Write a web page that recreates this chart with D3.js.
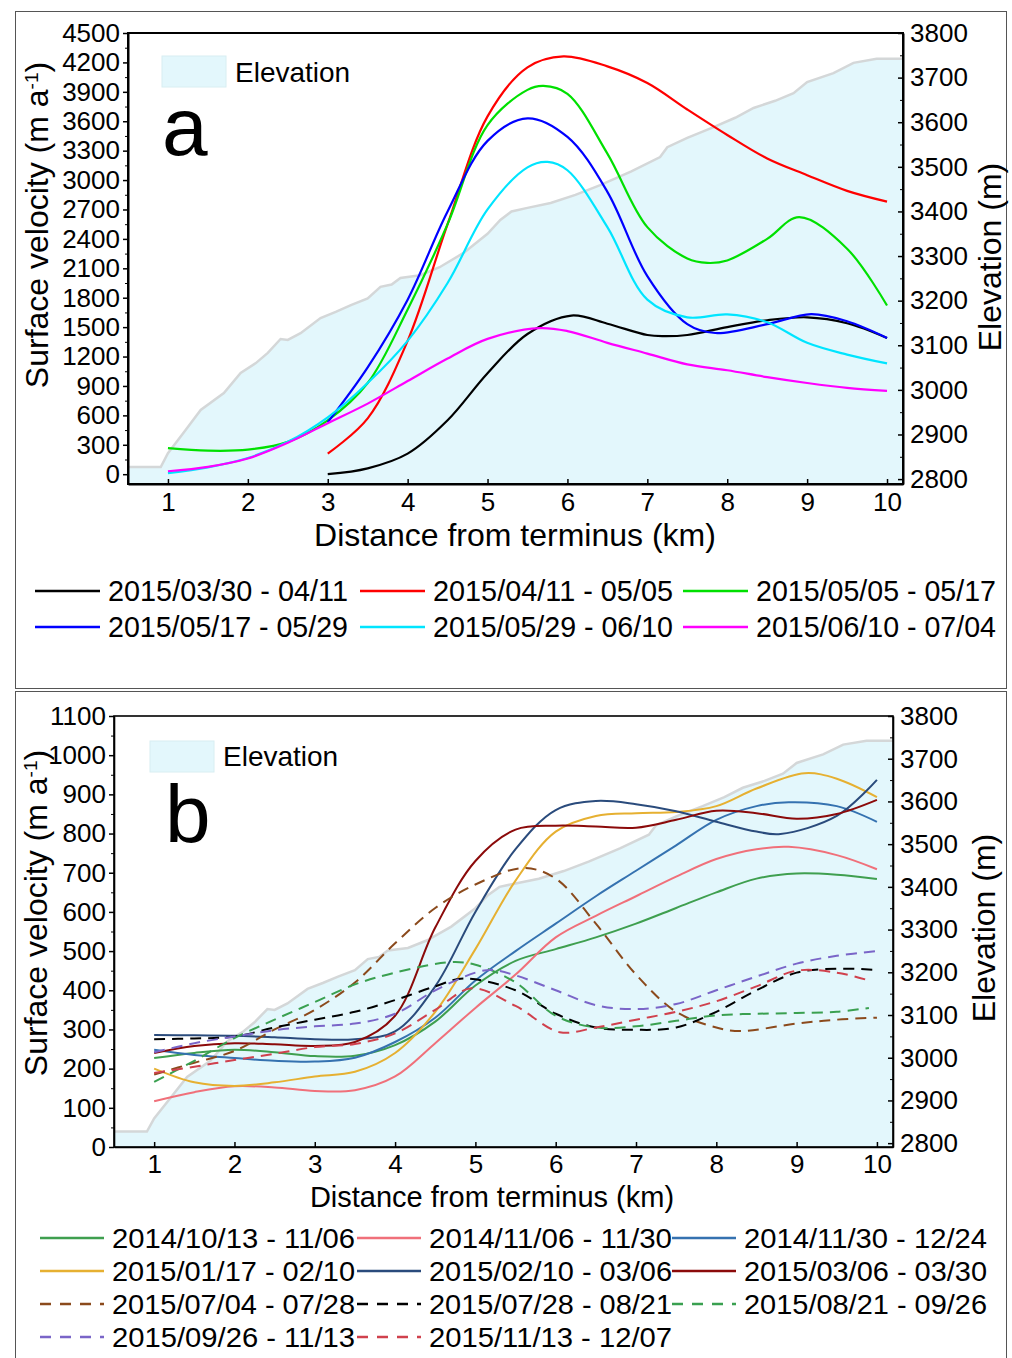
<!DOCTYPE html>
<html lang="en">
<head>
<meta charset="UTF-8" />
<title>Surface velocity along the flowline</title>
<script src="https://d3js.org/d3.v7.min.js"></script>
<style>
  body { margin: 0; background: #fff; }
  text { font-family: "Liberation Sans", Arial, sans-serif; fill: #000; }
  .legend text { font-family: "Liberation Sans Narrow", "Liberation Sans", sans-serif; }
</style>
</head>
<body>
<div class="chart"></div>
<script>
// elevation profile along the flowline (km, m) - same glacier in both panels
var elevKm = [0.5, 0.91, 1.0, 1.2, 1.41, 1.7, 1.91, 2.1, 2.25, 2.41, 2.5, 2.66, 2.91, 3.1, 3.29, 3.5, 3.66, 3.8, 3.91, 4.16, 4.4, 4.7, 5.0, 5.16, 5.3, 5.5, 5.79, 6.1, 6.41, 6.8, 7.16, 7.25, 7.5, 7.83, 8.1, 8.33, 8.6, 8.83, 9.0, 9.33, 9.58, 9.87, 10.2];
var elevM = [2827, 2827, 2858, 2905, 2955, 2993, 3038, 3060, 3083, 3114, 3112, 3127, 3161, 3175, 3190, 3205, 3231, 3236, 3251, 3257, 3275, 3307, 3350, 3381, 3400, 3408, 3419, 3437, 3459, 3490, 3522, 3544, 3565, 3589, 3610, 3632, 3648, 3665, 3690, 3710, 3733, 3742, 3742];

// panel a : spring 2015 velocities [km, m/a]
var velA0330 = [[3,0],[3.5,60],[4,210],[4.5,550],[5,1030],[5.5,1430],[6.05,1618],[6.5,1535],[7,1420],[7.2,1408],[7.5,1420],[8,1500],[8.5,1570],[9,1600],[9.5,1540],[10,1390]];
var velA0411 = [[3,210],[3.5,570],[4,1360],[4.5,2550],[5,3650],[5.5,4150],[5.95,4262],[6.5,4160],[7,3990],[7.5,3720],[8,3460],[8.5,3220],[9,3050],[9.5,2890],[10,2780]];
var velA0505 = [[1,265],[1.5,240],[2,250],[2.5,330],[3,550],[3.5,930],[4,1680],[4.5,2550],[5,3560],[5.5,3920],[5.7,3960],[6,3880],[6.5,3270],[7,2520],[7.5,2200],[7.75,2155],[8,2180],[8.5,2400],[8.9,2622],[9.5,2300],[10,1720]];
var velA0517 = [[3,530],[3.5,1090],[4,1780],[4.5,2680],[5,3400],[5.5,3630],[6,3440],[6.5,2880],[7,2020],[7.5,1530],[7.85,1440],[8.5,1530],[9.05,1633],[9.5,1560],[10,1390]];
var velA0529 = [[1,10],[1.5,70],[2,165],[2.5,330],[3,580],[3.5,930],[4,1360],[4.5,1950],[5,2700],[5.5,3130],[5.75,3185],[6,3100],[6.5,2520],[7,1780],[7.5,1600],[8,1630],[8.5,1550],[9,1340],[9.5,1220],[10,1130]];
var velA0610 = [[1,30],[1.5,75],[2,160],[2.5,320],[3,520],[3.5,720],[4,950],[4.5,1180],[5,1380],[5.65,1490],[6,1460],[6.5,1340],[7,1230],[7.5,1120],[8,1060],[8.5,990],[9,930],[9.5,880],[10,850]];

var labelsA = ["2015/03/30 - 04/11", "2015/04/11 - 05/05", "2015/05/05 - 05/17", "2015/05/17 - 05/29", "2015/05/29 - 06/10", "2015/06/10 - 07/04"];
var colorsA = ["#000000", "#ff0000", "#00e000", "#0000ff", "#00e5ff", "#ff00ff"];

// panel b : other periods [km, m/a]
var velB1013 = [[1,227],[1.5,240],[2,248],[2.5,242],[3,232],[3.5,233],[4,260],[4.5,320],[5,412],[5.5,475],[6,505],[6.5,535],[7,570],[7.5,610],[8,650],[8.5,685],[9,698],[9.5,695],[10,684]];
var velB1106 = [[1,117],[1.5,140],[2,155],[2.5,152],[3,143],[3.5,145],[4,180],[4.5,265],[5,355],[5.5,440],[6,535],[6.5,590],[7,640],[7.5,690],[8,735],[8.5,760],[8.9,766],[9.5,745],[10,709]];
var velB1130 = [[1,248],[1.5,235],[2,227],[2.5,220],[3,218],[3.5,228],[4,268],[4.5,330],[5,425],[5.5,500],[6,570],[6.5,640],[7,705],[7.5,770],[8,835],[8.5,870],[8.9,880],[9.5,870],[10,830]];
var velB0117 = [[1,200],[1.5,165],[2,156],[2.5,165],[3,180],[3.5,192],[4,240],[4.5,345],[5,505],[5.5,680],[6,805],[6.5,845],[7,852],[7.5,855],[8,870],[8.5,915],[9.1,954],[9.5,940],[10,893]];
var velB0210 = [[1,286],[1.5,285],[2,284],[2.5,280],[3,275],[3.5,275],[4,295],[4.5,410],[5,600],[5.5,760],[6,860],[6.5,883],[7,875],[7.5,857],[8,830],[8.5,805],[8.8,799],[9.5,845],[10,937]];
var velB0306 = [[1,240],[1.5,258],[2,265],[2.5,262],[3,258],[3.5,268],[4,335],[4.5,560],[5,730],[5.5,810],[6,820],[6.5,818],[7,815],[7.5,835],[8,858],[8.5,852],[9,838],[9.5,850],[10,886]];
var velB0704 = [[1,185],[1.5,215],[2,245],[2.5,300],[3,350],[3.5,420],[4,520],[4.5,610],[5,670],[5.6,712],[6,685],[6.5,570],[7,440],[7.5,345],[8,305],[8.3,296],[9,315],[9.5,325],[10,330]];
var velB0728 = [[1,275],[1.5,277],[2,282],[2.5,305],[3,325],[3.5,345],[4,375],[4.5,410],[4.85,430],[5.5,400],[6,340],[6.5,305],[7,299],[7.5,305],[8,345],[8.5,400],[9,445],[9.5,455],[10,452]];
var velB0821 = [[1,166],[1.5,220],[2,278],[2.5,325],[3,370],[3.5,415],[4,445],[4.7,472],[5,465],[5.5,420],[6,335],[6.5,305],[7,308],[7.5,322],[8,336],[8.5,340],[9,342],[9.5,345],[9.9,355]];
var velB0926 = [[1,242],[1.5,265],[2,282],[2.5,298],[3,308],[3.5,315],[4,340],[4.5,400],[5,445],[5.2,452],[5.5,438],[6,400],[6.5,362],[7,352],[7.5,365],[8,400],[8.5,435],[9,468],[9.5,488],[10,500]];
var velB1113 = [[1,189],[1.5,205],[2,222],[2.5,238],[3,255],[3.5,263],[4,290],[4.5,350],[4.95,405],[5.5,360],[6.05,293],[6.5,305],[7,325],[7.5,345],[8,372],[8.5,410],[9,450],[9.5,445],[9.9,425]];

var labelsB = ["2014/10/13 - 11/06", "2014/11/06 - 11/30", "2014/11/30 - 12/24", "2015/01/17 - 02/10", "2015/02/10 - 03/06", "2015/03/06 - 03/30", "2015/07/04 - 07/28", "2015/07/28 - 08/21", "2015/08/21 - 09/26", "2015/09/26 - 11/13", "2015/11/13 - 12/07"];
var colorsB = ["#3f9f4f", "#f0707a", "#3572b0", "#e6b031", "#2a4b7c", "#8b0a0a", "#8b4a1c", "#000000", "#3aa050", "#7a65c8", "#d0414d"];
var dashedB = [false, false, false, false, false, false, true, true, true, true, true];

var velTicksA = d3.range(0, 4501, 300);
var velTicksB = d3.range(0, 1101, 100);
var elevTicks = d3.range(2800, 3801, 100);
var kmTicks = d3.range(1, 11, 1);

var svg = d3.select(".chart").append("svg")
  .attr("width", 1012)
  .attr("height", 1358);

svg.append("rect").attr("width", 1012).attr("height", 1358).attr("fill", "#fff");

// outer boxes
svg.append("rect").attr("x", 15.5).attr("y", 11.5).attr("width", 991).attr("height", 677)
  .attr("fill", "none").attr("stroke", "#555").attr("stroke-width", 1);
svg.append("rect").attr("x", 15.5).attr("y", 691.5).attr("width", 991).attr("height", 700)
  .attr("fill", "none").attr("stroke", "#555").attr("stroke-width", 1);

var panelA = {
  id: "a", left: 128, right: 903, top: 33, bottom: 484,
  velDomain: [-100, 4500], elevDomain: [2789, 3800],
  velTicks: velTicksA, minorStep: 150, lw: 2.2, frame: 2,
  series: [velA0330, velA0411, velA0505, velA0517, velA0529, velA0610].map(function (d, i) {
    return { data: d, label: labelsA[i], color: colorsA[i], dash: false };
  }),
  xPad: 9, xTitleY: 546, xTitleSize: 32, xTitleX: 515,
  yTitleX: 48, yTitleY: 225, eTitleX: 1001, eTitleY: 257,
  letterX: 162, letterY: 155,
  swatch: [162, 56, 64, 31], swatchTextY: 82,
  legendCols: [35, 360, 683], legendRows: [591, 627], legendLen: 65, legendTextW: 240, legendSize: 29
};

var panelB = {
  id: "b", left: 114, right: 893, top: 716, bottom: 1147,
  velDomain: [0, 1100], elevDomain: [2791, 3800],
  velTicks: velTicksB, minorStep: 50, lw: 2, frame: 1.6,
  series: [velB1013, velB1106, velB1130, velB0117, velB0210, velB0306, velB0704, velB0728, velB0821, velB0926, velB1113].map(function (d, i) {
    return { data: d, label: labelsB[i], color: colorsB[i], dash: dashedB[i] };
  }),
  xPad: 8, xTitleY: 1207, xTitleSize: 29, xTitleX: 492,
  yTitleX: 47, yTitleY: 913, eTitleX: 995, eTitleY: 928,
  letterX: 165, letterY: 842,
  swatch: [150, 741, 64, 31], swatchTextY: 766,
  legendCols: [40, 357, 672], legendRows: [1238, 1271, 1304, 1337], legendLen: 64, legendTextW: 243, legendSize: 28
};

drawPanel(panelA);
drawPanel(panelB);

function drawPanel(p) {
  var x = d3.scaleLinear().domain([0.5, 10.2]).range([p.left, p.right]);
  var yv = d3.scaleLinear().domain(p.velDomain).range([p.bottom, p.top]);
  var ye = d3.scaleLinear().domain(p.elevDomain).range([p.bottom, p.top]);

  var g = svg.append("g");

  g.append("clipPath").attr("id", "clip-" + p.id)
    .append("rect").attr("x", p.left).attr("y", p.top)
    .attr("width", p.right - p.left).attr("height", p.bottom - p.top);

  // elevation as a shaded area
  var elev = elevKm.map(function (k, i) { return { km: k, m: elevM[i] }; });
  var plot = g.append("g").attr("clip-path", "url(#clip-" + p.id + ")");
  plot.append("path").datum(elev)
    .attr("fill", "#e3f7fc")
    .attr("d", d3.area().x(function (d) { return x(d.km); }).y0(p.bottom).y1(function (d) { return ye(d.m); }));
  plot.append("path").datum(elev)
    .attr("fill", "none").attr("stroke", "#d4d7d8").attr("stroke-width", 2.5)
    .attr("d", d3.line().x(function (d) { return x(d.km); }).y(function (d) { return ye(d.m); }));

  // velocity profiles (smoothed like the original spline fit)
  var line = d3.line().curve(d3.curveCatmullRom.alpha(0.5))
    .x(function (d) { return x(d[0]); })
    .y(function (d) { return yv(d[1]); });
  p.series.forEach(function (s) {
    plot.append("path").datum(s.data)
      .attr("fill", "none")
      .attr("stroke", s.color)
      .attr("stroke-width", p.lw)
      .attr("stroke-dasharray", s.dash ? "11,7" : null)
      .attr("d", line);
  });

  // frame
  g.append("rect").attr("x", p.left).attr("y", p.top)
    .attr("width", p.right - p.left).attr("height", p.bottom - p.top)
    .attr("fill", "none").attr("stroke", "#000").attr("stroke-width", p.frame);

  // minor ticks
  var vmax = p.velTicks[p.velTicks.length - 1];
  var minorV = d3.range(p.minorStep, vmax, p.minorStep * 2).filter(function (v) { return v >= p.velDomain[0]; });
  g.append("g").attr("transform", "translate(" + p.left + ",0)")
    .call(d3.axisLeft(yv).tickValues(minorV).tickSize(3).tickFormat(""))
    .call(function (a) { a.select(".domain").remove(); });
  g.append("g").attr("transform", "translate(" + p.right + ",0)")
    .call(d3.axisRight(ye).tickValues(d3.range(2850, 3800, 100)).tickSize(-3).tickFormat(""))
    .call(function (a) { a.select(".domain").remove(); });

  // main axes
  var axL = g.append("g").attr("transform", "translate(" + p.left + ",0)")
    .call(d3.axisLeft(yv).tickValues(p.velTicks).tickSize(5).tickSizeOuter(0).tickPadding(3).tickFormat(d3.format("d")));
  var axR = g.append("g").attr("transform", "translate(" + p.right + ",0)")
    .call(d3.axisRight(ye).tickValues(elevTicks).tickSize(-5).tickSizeOuter(0).tickPadding(7).tickFormat(d3.format("d")));
  var axB = g.append("g").attr("transform", "translate(0," + p.bottom + ")")
    .call(d3.axisBottom(x).tickValues(kmTicks).tickSize(-5).tickSizeOuter(0).tickPadding(p.xPad).tickFormat(d3.format("d")));
  [axL, axR, axB].forEach(function (a) {
    a.attr("font-size", 26).attr("font-family", null);
    a.selectAll("line").attr("stroke", "#000").attr("stroke-width", 1.5);
    a.select(".domain").attr("stroke", "#000").attr("stroke-width", p.frame);
  });
  g.selectAll("line").attr("stroke", "#000");

  // axis titles
  g.append("text").attr("x", p.xTitleX).attr("y", p.xTitleY)
    .attr("text-anchor", "middle").attr("font-size", p.xTitleSize)
    .text("Distance from terminus (km)");

  var yt = g.append("text")
    .attr("transform", "translate(" + p.yTitleX + "," + p.yTitleY + ") rotate(-90)")
    .attr("text-anchor", "middle").attr("font-size", 32);
  yt.append("tspan").text("Surface velocity (m a");
  yt.append("tspan").attr("baseline-shift", "super").attr("font-size", 19).text("-1");
  yt.append("tspan").text(")");

  g.append("text")
    .attr("transform", "translate(" + p.eTitleX + "," + p.eTitleY + ") rotate(-90)")
    .attr("text-anchor", "middle").attr("font-size", 32)
    .text("Elevation (m)");

  // panel letter
  g.append("text").attr("x", p.letterX).attr("y", p.letterY)
    .attr("font-size", 82).text(p.id);

  // elevation legend
  g.append("rect").attr("x", p.swatch[0]).attr("y", p.swatch[1])
    .attr("width", p.swatch[2]).attr("height", p.swatch[3])
    .attr("fill", "#e3f7fc").attr("stroke", "#d8eef2").attr("stroke-width", 1);
  g.append("text").attr("x", p.swatch[0] + p.swatch[2] + 9).attr("y", p.swatchTextY)
    .attr("font-size", 28).text("Elevation");

  // series legend
  var leg = g.append("g").attr("class", "legend");
  p.series.forEach(function (s, i) {
    var cx = p.legendCols[i % 3];
    var cy = p.legendRows[Math.floor(i / 3)];
    leg.append("line")
      .attr("x1", cx).attr("x2", cx + p.legendLen)
      .attr("y1", cy).attr("y2", cy)
      .attr("stroke", s.color).attr("stroke-width", 2.5)
      .attr("stroke-dasharray", s.dash ? "11,9" : null);
    leg.append("text")
      .attr("x", cx + p.legendLen + 8).attr("y", cy + 10)
      .attr("font-size", p.legendSize)
      .attr("textLength", p.legendTextW).attr("lengthAdjust", "spacingAndGlyphs")
      .text(s.label);
  });
}
</script>
</body>
</html>
